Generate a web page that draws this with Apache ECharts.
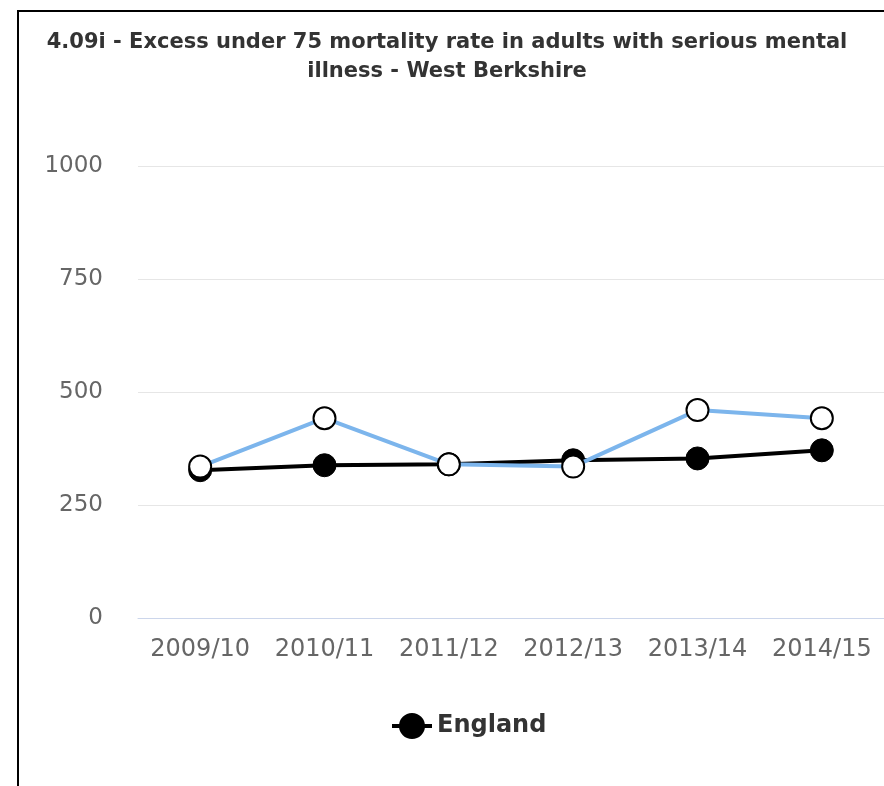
<!DOCTYPE html>
<html>
<head>
<meta charset="utf-8">
<script src="https://cdn.jsdelivr.net/npm/echarts@6/dist/echarts.min.js"></script>
<style>
html,body{margin:0;padding:0;background:#fff;}
#chart{width:884px;height:786px;}
</style>
</head>
<body>
<div id="chart"></div>
<script>
const categories = ['2009/10','2010/11','2011/12','2012/13','2013/14','2014/15'];
const englandValues = [327, 338, 340, 349, 353, 371];
const westBerkshireValues = [335, 442, 340, 335, 460, 442];
const yTicks = [0, 250, 500, 750, 1000];
const titleText = '4.09i - Excess under 75 mortality rate in adults with serious mental\nillness - West Berkshire';

const chart = echarts.init(document.getElementById('chart'), null, {renderer:'canvas'});
const font = '"DejaVu Sans", sans-serif';
chart.setOption({
  animation:false,
  backgroundColor:'#fff',
  title:{
    text:titleText,
    left:442, top:23, textAlign:'center',
    textStyle:{fontFamily:font, fontSize:21, fontWeight:'bold', color:'#333', lineHeight:29}
  },
  graphic:[{
    type:'polyline',
    shape:{points:[[18,786],[18,11],[884,11]]},
    style:{stroke:'#000', lineWidth:2, fill:null}
  }],
  legend:{
    data:['England'],
    left:385, top:708,
    itemWidth:40, itemHeight:30, itemGap:10,
    lineStyle:{width:4, color:'#000'},
    textStyle:{fontFamily:font, fontSize:24, fontWeight:'bold', color:'#333'}
  },
  grid:{left:138, right:0, top:166, bottom:168},
  xAxis:{
    type:'category',
    data:categories,
    boundaryGap:true,
    axisLine:{lineStyle:{color:'#ccd6eb', width:1}},
    axisTick:{alignWithLabel:true, length:9, lineStyle:{color:'#ccd6eb'}},
    axisLabel:{fontFamily:font, fontSize:24, color:'#666', margin:20, interval:0}
  },
  yAxis:{
    type:'value',
    min:yTicks[0], max:yTicks[yTicks.length-1], interval:250,
    axisLine:{show:false},
    axisTick:{show:false},
    splitLine:{lineStyle:{color:'#e6e6e6', width:1}},
    axisLabel:{fontFamily:font, fontSize:23, color:'#666', margin:35, formatter:function(v){return String(v);}}
  },
  series:[
    {
      name:'England',
      type:'line',
      data:englandValues,
      symbol:'circle', symbolSize:23,
      lineStyle:{color:'#000', width:4},
      itemStyle:{color:'#000', borderColor:'#000', borderWidth:1},
      z:2
    },
    {
      name:'West Berkshire',
      type:'line',
      data:westBerkshireValues,
      symbol:'circle', symbolSize:22,
      lineStyle:{color:'#7cb5ec', width:4},
      itemStyle:{color:'#fff', borderColor:'#000', borderWidth:2},
      z:3
    }
  ]
});
</script>
</body>
</html>
